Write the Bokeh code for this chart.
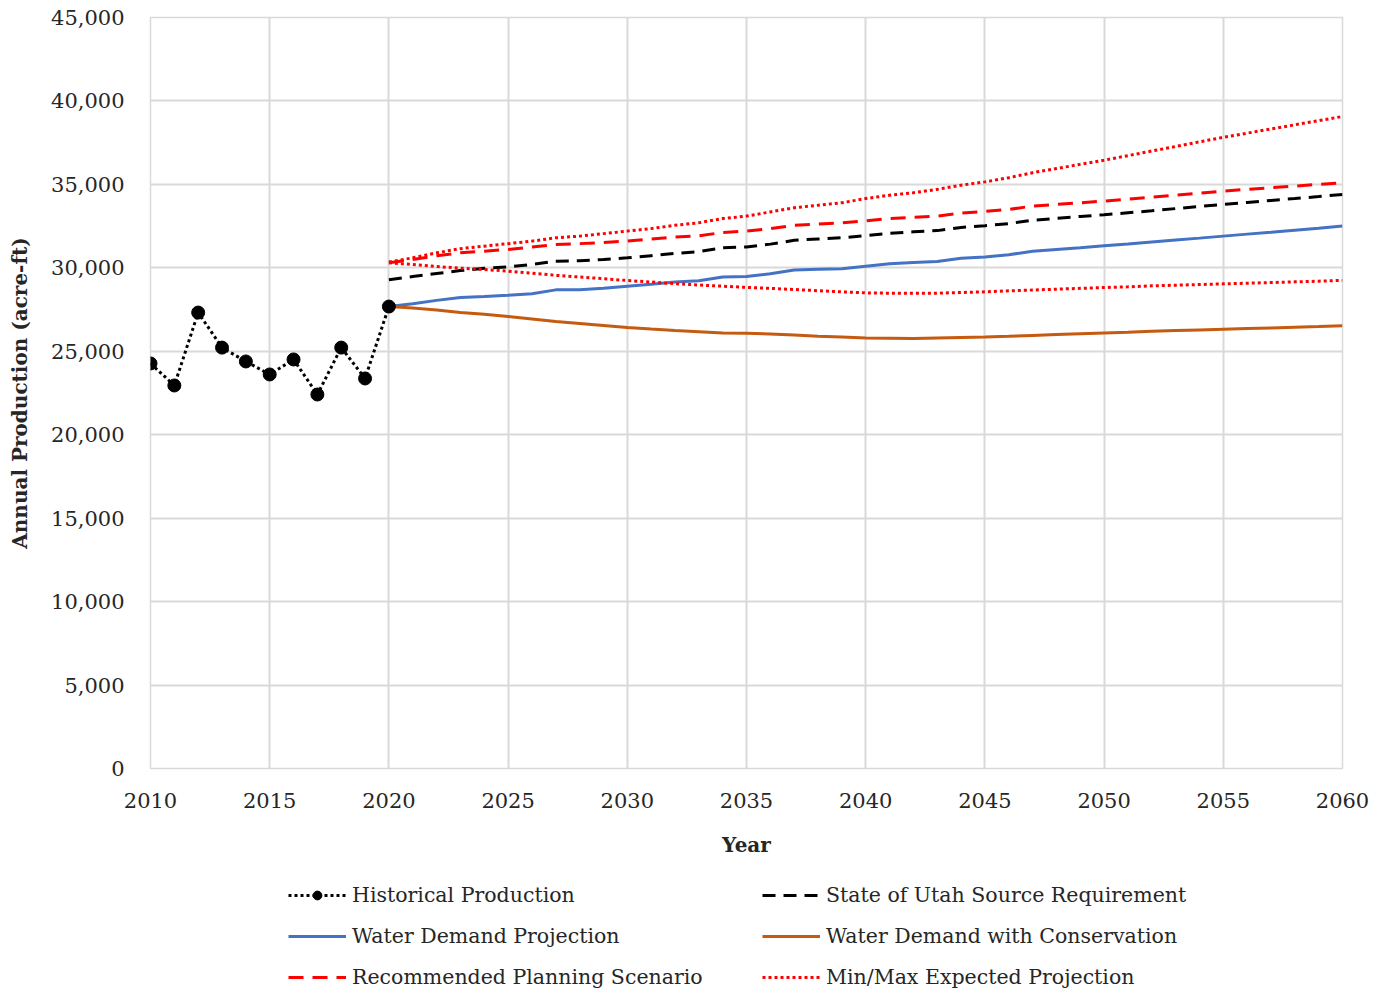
from bokeh.plotting import figure
from bokeh.layouts import column
from bokeh.models import Range1d, FixedTicker, NumeralTickFormatter, Legend, LegendItem
from bokeh.embed import file_html
from bokeh.resources import INLINE

# ---- data ----
hist_years = list(range(2010, 2021))
hist_vals = [24270, 22950, 27320, 25220, 24390, 23610, 24510, 22410, 25220, 23370, 27680]

proj_years = list(range(2020, 2061))
demand = [27680, 27850, 28050, 28220, 28280, 28350, 28450, 28680, 28680, 28780,
          28900, 29020, 29150, 29220, 29450, 29480, 29650, 29870, 29920, 29950,
          30100, 30250, 30320, 30380, 30580, 30650, 30780, 31000, 31100, 31200,
          31320, 31430, 31550, 31670, 31780, 31900, 32020, 32130, 32250, 32370, 32500]
conservation = [27680, 27600, 27470, 27330, 27220, 27080, 26930, 26780, 26670, 26550,
                26430, 26330, 26240, 26170, 26100, 26080, 26030, 25970, 25900, 25850,
                25800, 25780, 25760, 25800, 25830, 25860, 25900, 25950, 26000, 26050,
                26100, 26140, 26200, 26240, 26280, 26320, 26360, 26400, 26440, 26480, 26530]
state_req = [29280, 29480, 29660, 29840, 29970, 30050, 30200, 30400, 30420, 30500,
             30600, 30730, 30860, 30970, 31200, 31250, 31420, 31650, 31730, 31800,
             31930, 32070, 32160, 32230, 32420, 32520, 32650, 32850, 32960, 33080,
             33180, 33300, 33420, 33550, 33680, 33800, 33920, 34040, 34150, 34270, 34400]
recommended = [30300, 30500, 30720, 30900, 31000, 31100, 31250, 31400, 31450, 31520,
               31600, 31720, 31850, 31920, 32120, 32200, 32350, 32550, 32620, 32700,
               32820, 32950, 33020, 33100, 33280, 33380, 33500, 33700, 33800, 33900,
               34000, 34120, 34240, 34360, 34480, 34600, 34700, 34800, 34900, 35000, 35100]
max_proj = [30350, 30600, 30900, 31150, 31300, 31450, 31600, 31800, 31900, 32050,
            32200, 32350, 32550, 32700, 32950, 33100, 33350, 33600, 33750, 33900,
            34150, 34350, 34500, 34700, 34950, 35150, 35400, 35700, 35950, 36200,
            36450, 36720, 37000, 37270, 37550, 37820, 38070, 38320, 38570, 38820, 39070]
min_proj = [30300, 30200, 30080, 29980, 29900, 29800, 29680, 29550, 29450, 29350,
            29240, 29150, 29050, 28970, 28900, 28830, 28770, 28700, 28630, 28560,
            28500, 28480, 28470, 28480, 28520, 28560, 28620, 28670, 28720, 28770,
            28820, 28860, 28920, 28960, 29000, 29040, 29080, 29120, 29160, 29200, 29250]

x_ticks = list(range(2010, 2061, 5))
y_ticks = list(range(0, 45001, 5000))

FONT = "DejaVu Serif"
TXT = "#262626"
GRID = "#d9d9d9"

STYLES = {
    "demand": dict(line_color="#4472C4", line_width=3),
    "cons": dict(line_color="#C55A11", line_width=3),
    "state": dict(line_color="black", line_width=3, line_dash="13 8"),
    "rec": dict(line_color="#FF0000", line_width=3, line_dash="15 9"),
    "minmax": dict(line_color="#FF0000", line_width=3, line_dash="3 3"),
    "hist": dict(line_color="black", line_width=3, line_dash="3 3"),
}
MARKER = dict(size=13, marker="circle", fill_color="black", line_color="black")

p = figure(width=1376, height=870,
           x_range=Range1d(2010, 2060), y_range=Range1d(0, 45000),
           output_backend="svg", toolbar_location=None,
           min_border_left=150, min_border_right=34, min_border_top=17, min_border_bottom=102)

p.outline_line_color = GRID
p.outline_line_width = 1.5
p.background_fill_color = "white"
p.border_fill_color = "white"

for ax in (p.xaxis[0], p.yaxis[0]):
    ax.axis_line_color = None
    ax.major_tick_line_color = None
    ax.minor_tick_line_color = None
    ax.major_label_text_font = FONT
    ax.major_label_text_font_size = "21px"
    ax.major_label_text_color = TXT
    ax.axis_label_text_font = FONT
    ax.axis_label_text_font_style = "bold"
    ax.axis_label_text_font_size = "20px"
    ax.axis_label_text_color = TXT

p.xaxis.ticker = FixedTicker(ticks=x_ticks)
p.yaxis.ticker = FixedTicker(ticks=y_ticks)
p.yaxis.formatter = NumeralTickFormatter(format="0,0")
p.xaxis.axis_label = "Year"
p.yaxis.axis_label = "Annual Production (acre-ft)"
p.xaxis.major_label_standoff = 18
p.xaxis.axis_label_standoff = 22
p.yaxis.major_label_standoff = 20
p.yaxis.axis_label_standoff = 16

p.xgrid.ticker = FixedTicker(ticks=x_ticks)
p.ygrid.ticker = FixedTicker(ticks=y_ticks)
p.xgrid.grid_line_color = GRID
p.ygrid.grid_line_color = GRID
p.xgrid.grid_line_width = 2
p.ygrid.grid_line_width = 2

p.line(proj_years, demand, **STYLES["demand"])
p.line(proj_years, conservation, **STYLES["cons"])
p.line(proj_years, state_req, **STYLES["state"])
p.line(proj_years, recommended, **STYLES["rec"])
p.line(proj_years, max_proj, **STYLES["minmax"])
p.line(proj_years, min_proj, **STYLES["minmax"])
p.line(hist_years, hist_vals, **STYLES["hist"])
p.scatter(hist_years, hist_vals, **MARKER)

# ---- legend strip below the chart (its ranges keep the series out of view) ----
lg = figure(width=1376, height=120, x_range=Range1d(0, 1), y_range=Range1d(0, 1),
            output_backend="svg", toolbar_location=None, min_border=0)
lg.xaxis.visible = False
lg.yaxis.visible = False
lg.xgrid.visible = False
lg.ygrid.visible = False
lg.outline_line_color = None

k_hist_l = lg.line(hist_years, hist_vals, **STYLES["hist"])
k_hist_m = lg.scatter(hist_years, hist_vals, **MARKER)
k_demand = lg.line(proj_years, demand, **STYLES["demand"])
k_rec = lg.line(proj_years, recommended, **STYLES["rec"])
k_state = lg.line(proj_years, state_req, **STYLES["state"])
k_cons = lg.line(proj_years, conservation, **STYLES["cons"])
k_mm = lg.line(proj_years, max_proj, **STYLES["minmax"])

def make_legend(items, loc):
    return Legend(items=items, location=loc, orientation="vertical",
                  label_text_font=FONT, label_text_font_size="20.5px", label_text_color=TXT,
                  glyph_width=58, glyph_height=22, label_height=22, label_standoff=6,
                  spacing=17, padding=0, margin=0,
                  border_line_color=None, background_fill_alpha=0)

lg.add_layout(make_legend([
    LegendItem(label="Historical Production", renderers=[k_hist_l, k_hist_m]),
    LegendItem(label="Water Demand Projection", renderers=[k_demand]),
    LegendItem(label="Recommended Planning Scenario", renderers=[k_rec]),
], (138, 1)), "center")
lg.add_layout(make_legend([
    LegendItem(label="State of Utah Source Requirement", renderers=[k_state]),
    LegendItem(label="Water Demand with Conservation", renderers=[k_cons]),
    LegendItem(label="Min/Max Expected Projection", renderers=[k_mm]),
], (612, 1)), "center")

layout = column(p, lg, spacing=0)
open("out.html", "w").write(file_html(layout, INLINE))
